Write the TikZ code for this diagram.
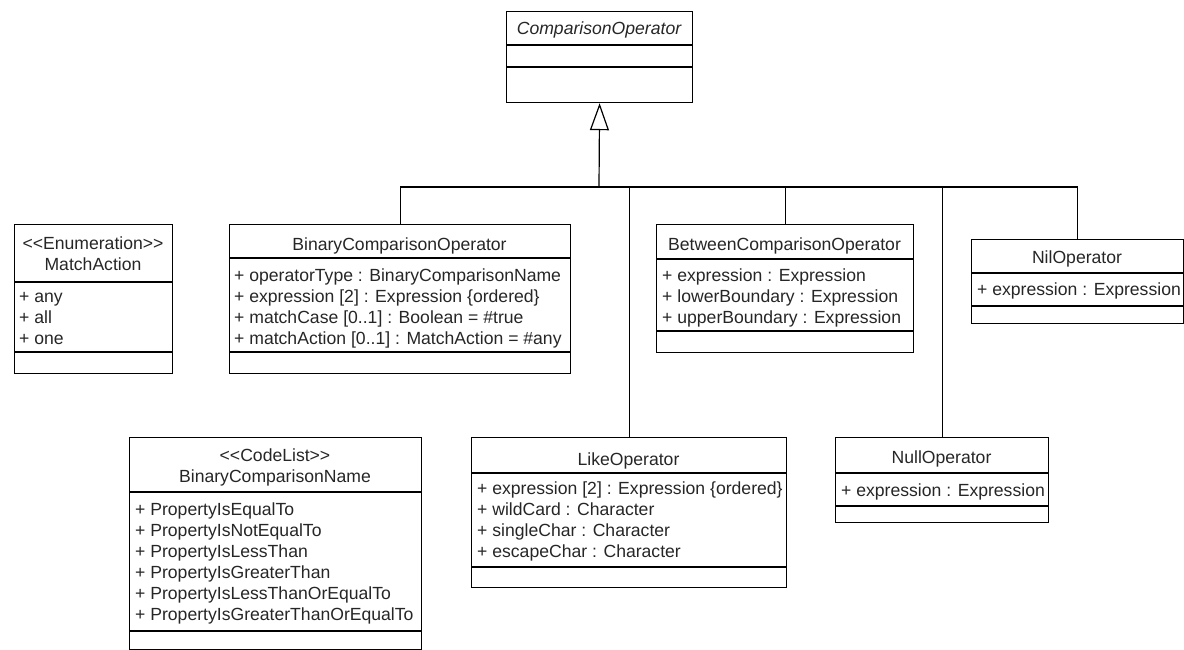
\documentclass[tikz,border=0pt]{standalone}
\usepackage{fontspec}
\setmainfont{Liberation Sans}
\usetikzlibrary{arrows.meta}
\newcommand{\lt}{<\kern0pt<\kern0pt}
\newcommand{\gt}{>\kern0pt>}
\tikzset{
  every node/.style={font=\fontsize{17.6pt}{21pt}\selectfont, text=black!85},
  box/.style={draw, line width=1.2pt, inner sep=0pt, anchor=north west},
  sep/.style={line width=1.2pt},
  title/.style={inner sep=0pt, anchor=base},
  attr/.style={inner sep=0pt, anchor=base west},
  conn/.style={line width=1.2pt},
  gen/.style={conn, -{Triangle[open, length=27pt, width=19pt, line width=1.2pt]}}
}
\begin{document}
\begin{tikzpicture}[x=1pt, y=-1pt]
\useasboundingbox (0,0) rectangle (1184,650);

% ComparisonOperator
\node[box, minimum width=186pt, minimum height=91pt] (cmp) at (506,11) {};
\draw[sep] (506,45) -- (692,45);
\draw[sep] (506,67) -- (692,67);
\node[title] (cmpT) at (599,35) {\itshape ComparisonOperator};

% MatchAction
\node[box, minimum width=158pt, minimum height=149pt] (ma) at (14,224) {};
\draw[sep] (14,282) -- (172,282);
\draw[sep] (14,352) -- (172,352);
\node[title] (maS) at (93,249) {\lt Enumeration\gt};
\node[title] (maT) at (93,270) {MatchAction};
\node[attr] (ma1) at (19,302) {+ any};
\node[attr] (ma2) at (19,323) {+ all};
\node[attr] (ma3) at (19,344) {+ one};

% BinaryComparisonOperator
\node[box, minimum width=341pt, minimum height=149pt] (bin) at (229,224) {};
\draw[sep] (229,258) -- (570,258);
\draw[sep] (229,352) -- (570,352);
\node[title] (binT) at (399.5,250) {BinaryComparisonOperator};
\node[attr] (bin1) at (234,281) {+ operatorType : BinaryComparisonName};
\node[attr] (bin2) at (234,302) {+ expression [2] : Expression \{ordered\}};
\node[attr] (bin3) at (234,323) {+ matchCase [0..1] : Boolean = \#true};
\node[attr] (bin4) at (234,344) {+ matchAction [0..1] : MatchAction = \#any};

% BetweenComparisonOperator
\node[box, minimum width=257pt, minimum height=128pt] (btw) at (656,224) {};
\draw[sep] (656,259) -- (913,259);
\draw[sep] (656,331) -- (913,331);
\node[title] (btwT) at (784.5,250) {BetweenComparisonOperator};
\node[attr] (btw1) at (662,281) {+ expression : Expression};
\node[attr] (btw2) at (662,302) {+ lowerBoundary : Expression};
\node[attr] (btw3) at (662,323) {+ upperBoundary : Expression};

% NilOperator
\node[box, minimum width=212pt, minimum height=84pt] (nil) at (971,239) {};
\draw[sep] (971,273) -- (1183,273);
\draw[sep] (971,306) -- (1183,306);
\node[title] (nilT) at (1077,263) {NilOperator};
\node[attr] (nil1) at (977,295) {+ expression : Expression};

% BinaryComparisonName
\node[box, minimum width=292pt, minimum height=212pt] (bcn) at (129,437) {};
\draw[sep] (129,492) -- (421,492);
\draw[sep] (129,631) -- (421,631);
\node[title] (bcnS) at (275,461) {\lt CodeList\gt};
\node[title] (bcnT) at (275,482) {BinaryComparisonName};
\node[attr] (bcn1) at (135,515) {+ PropertyIsEqualTo};
\node[attr] (bcn2) at (135,536) {+ PropertyIsNotEqualTo};
\node[attr] (bcn3) at (135,557) {+ PropertyIsLessThan};
\node[attr] (bcn4) at (135,578) {+ PropertyIsGreaterThan};
\node[attr] (bcn5) at (135,599) {+ PropertyIsLessThanOrEqualTo};
\node[attr] (bcn6) at (135,620) {+ PropertyIsGreaterThanOrEqualTo};

% LikeOperator
\node[box, minimum width=315pt, minimum height=150pt] (like) at (471,437) {};
\draw[sep] (471,473) -- (786,473);
\draw[sep] (471,567) -- (786,567);
\node[title] (likeT) at (628.5,465) {LikeOperator};
\node[attr] (like1) at (477,494) {+ expression [2] : Expression \{ordered\}};
\node[attr] (like2) at (477,515) {+ wildCard : Character};
\node[attr] (like3) at (477,536) {+ singleChar : Character};
\node[attr] (like4) at (477,557) {+ escapeChar : Character};

% NullOperator
\node[box, minimum width=213pt, minimum height=85pt] (null) at (835,437) {};
\draw[sep] (835,473) -- (1048,473);
\draw[sep] (835,506) -- (1048,506);
\node[title] (nullT) at (941.5,463) {NullOperator};
\node[attr] (null1) at (841,496) {+ expression : Expression};

% Generalization tree
\coordinate (j) at (599,187);
\draw[conn] (bin.north) -- (bin.north |- j) -- (nil.north |- j) -- (nil.north);
\draw[conn] (btw.north) -- (btw.north |- j);
\draw[conn] (like.north) -- (like.north |- j);
\draw[conn] (null.north) -- (null.north |- j);
\draw[gen] (j) -- (cmp.south);
\end{tikzpicture}
\end{document}
